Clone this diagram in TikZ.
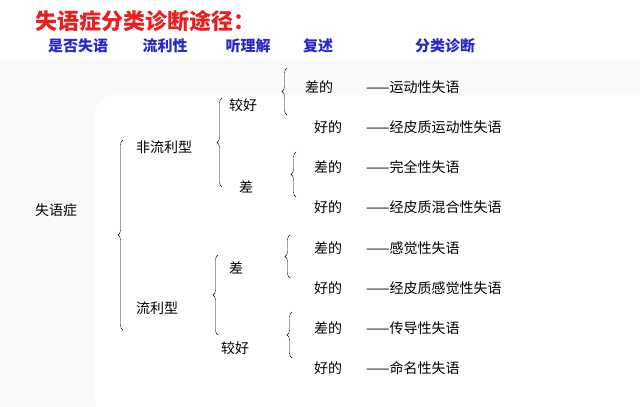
\documentclass[tikz,border=0pt]{standalone}
\usepackage{fontspec}
\setmainfont{Noto Sans CJK SC}
\usetikzlibrary{decorations.pathreplacing}
\definecolor{titlered}{RGB}{235,30,30}
\definecolor{headblue}{RGB}{40,40,200}
\tikzset{
  txt/.style={font=\fontsize{14pt}{16pt}\selectfont, anchor=west, inner sep=0pt},
  head/.style={font=\fontsize{15pt}{17pt}\selectfont\bfseries, text=headblue, inner sep=0pt},
  brc/.style={decorate, decoration={brace, amplitude=5pt}, thin}
}
\begin{document}
\begin{tikzpicture}[x=1pt,y=-1pt]
\useasboundingbox (0,0) rectangle (640,407);
% faint background
\fill[gray!4] (0,60) rectangle (640,407);
\fill[white, rounded corners=20pt] (95,95) rectangle (660,420);

% TITLE
\node[font=\fontsize{22pt}{24pt}\selectfont\bfseries, text=titlered, anchor=west, inner sep=0pt] (title) at (35,21) {失语症分类诊断途径：};

% HEADERS
\node[head] (h1) at (78,46) {是否失语};
\node[head] (h2) at (165,46) {流利性};
\node[head] (h3) at (248,46) {听理解};
\node[head] (h4) at (318,46) {复述};
\node[head] (h5) at (445,46) {分类诊断};

% LEVELS
\node[txt] (root) at (35,210) {失语症};
\node[txt] (nf) at (136,147) {非流利型};
\node[txt] (fl) at (136,308) {流利型};
\node[txt] (nfa) at (229,105) {较好};
\node[txt] (nfb) at (239,187) {差};
\node[txt] (fla) at (229,268) {差};
\node[txt] (flb) at (221,348) {较好};

% REPETITION + DIAGNOSIS
\foreach \y/\r/\d [count=\i] in {
  87/差的/运动性失语, 127/好的/经皮质运动性失语,
  167/差的/完全性失语, 207/好的/经皮质混合性失语,
  248/差的/感觉性失语, 288/好的/经皮质感觉性失语,
  328/差的/传导性失语, 368/好的/命名性失语}{
  \node[txt] (rep\i) at (\ifnum\i=1 305\else 314\fi,\y) {\r};
  \node[txt] (dx\i) at (366,\y) {——\d};
}

% BRACES
\draw[brc] (123,330) -- (123,140);
\draw[brc] (222,187) -- (222,98);
\draw[brc] (218,335) -- (218,255);
\draw[brc] (287,115) -- (287,68);
\draw[brc] (296,197) -- (296,152);
\draw[brc] (290,278) -- (290,235);
\draw[brc] (292,358) -- (292,312);
\end{tikzpicture}
\end{document}
